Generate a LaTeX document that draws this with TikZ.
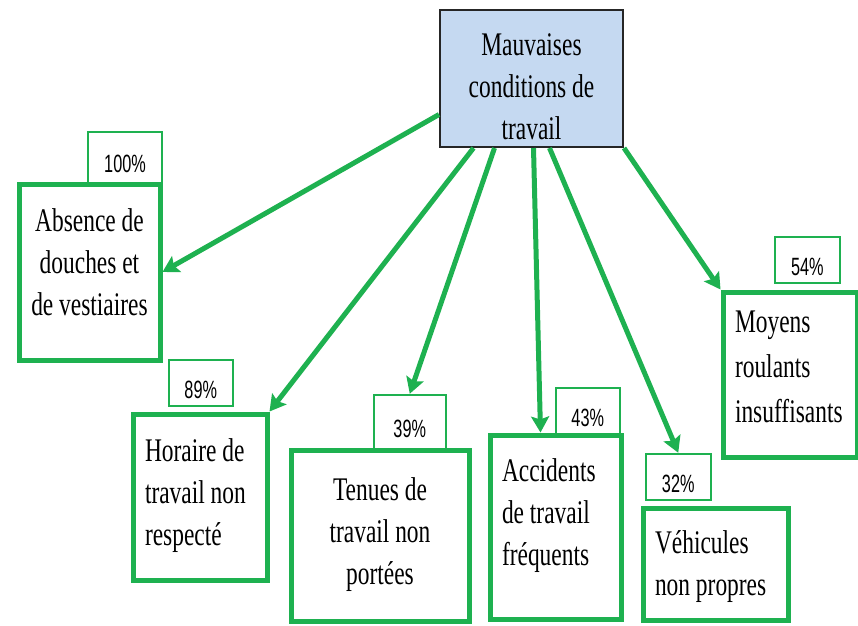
\documentclass[tikz,border=0pt]{standalone}
\usepackage{xcolor}
\usepackage{fontspec}
\setmainfont{Liberation Serif}
\newfontfamily\narrowserif[FakeStretch=0.71]{Liberation Serif}
\newfontfamily\narrowsans[FakeStretch=0.65]{Liberation Sans}
\usepackage{tikz}
\usetikzlibrary{arrows.meta}
\definecolor{boxgreen}{RGB}{30,177,80}
\definecolor{causeblue}{RGB}{197,217,241}

\begin{document}
\begin{tikzpicture}[x=1pt,y=-1pt,
    arrow/.style={draw=boxgreen,line width=5pt,-{Stealth[length=16pt,width=18pt,inset=3pt]}}]
  \useasboundingbox (0,0) rectangle (858,625);
  % percentages
  \begin{scope}[every node/.style={below right,draw=boxgreen,line width=2pt,fill=white,inner sep=0pt,
      text height=33pt,text depth=2pt,font=\narrowsans\fontsize{25}{28}\selectfont}]
  \node[minimum width=74.5pt,minimum height=51pt] (n1p) at (86.75,130.75) {100\%};
  \node[minimum width=64pt,minimum height=46pt] (n2p) at (167.75,358.75) {89\%};
  \node[minimum width=72pt,minimum height=54pt] (n3p) at (372.75,393.75) {39\%};
  \node[minimum width=64pt,minimum height=46pt] (n4p) at (554.75,386.75) {43\%};
  \node[minimum width=65pt,minimum height=46pt] (n5p) at (644.75,452.75) {32\%};
  \node[minimum width=65pt,minimum height=46pt] (n6p) at (773.75,235.75) {54\%};
  \end{scope}
  % boxes
  \begin{scope}[every node/.style={below right,draw=boxgreen,line width=5pt,fill=white,inner xsep=12pt,inner ysep=0pt,
      font=\narrowserif\fontsize{33}{42}\selectfont}]
  \node[draw=black!85,line width=2pt,fill=causeblue] (n0) at (439,9)
       {\begin{minipage}[t][137pt][t]{159pt}\centering\vspace*{24pt}Mauvaises\\conditions de\\travail\end{minipage}};
  \node (n1) at (16.5,181.5)
       {\begin{minipage}[t][176pt][t]{117pt}\centering\vspace*{25pt}Absence de\\douches et\\de vestiaires\end{minipage}};
  \node (n2) at (130.5,411.5)
       {\begin{minipage}[t][166pt][t]{110pt}\raggedright\vspace*{25pt}Horaire de\\travail non\\respecté\end{minipage}};
  \node (n3) at (288.5,447.5)
       {\begin{minipage}[t][171pt][t]{154pt}\centering\vspace*{28pt}Tenues de\\travail non\\portées\end{minipage}};
  \node (n4) at (487.5,432.5)
       {\begin{minipage}[t][184pt][t]{107pt}\raggedright\vspace*{24pt}Accidents\\de travail\\fréquents\end{minipage}};
  \node (n5) at (640.5,505.5)
       {\begin{minipage}[t][112pt][t]{121pt}\raggedright\vspace*{23pt}Véhicules\\non propres\end{minipage}};
  \node (n6) at (720.5,289.5)
       {\begin{minipage}[t][165pt][t]{110pt}\raggedright\fontsize{33}{45}\selectfont\vspace*{19pt}Moyens\\roulants\\insuffisants\end{minipage}};
  \end{scope}
  % arrows
  \draw[arrow] ([yshift=-36pt]n0.west) -- (n1.east);
  \draw[arrow] ([xshift=-58pt]n0.south) -- (n2.north east);
  \draw[arrow] ([xshift=-37pt]n0.south) -- (n3p.north);
  \draw[arrow] ([xshift=2pt]n0.south) -- ([xshift=-15pt]n4.north);
  \draw[arrow] ([xshift=18pt]n0.south) -- (n5p.north);
  \draw[arrow] (n0.south east) -- (n6.north west);
\end{tikzpicture}
\end{document}
